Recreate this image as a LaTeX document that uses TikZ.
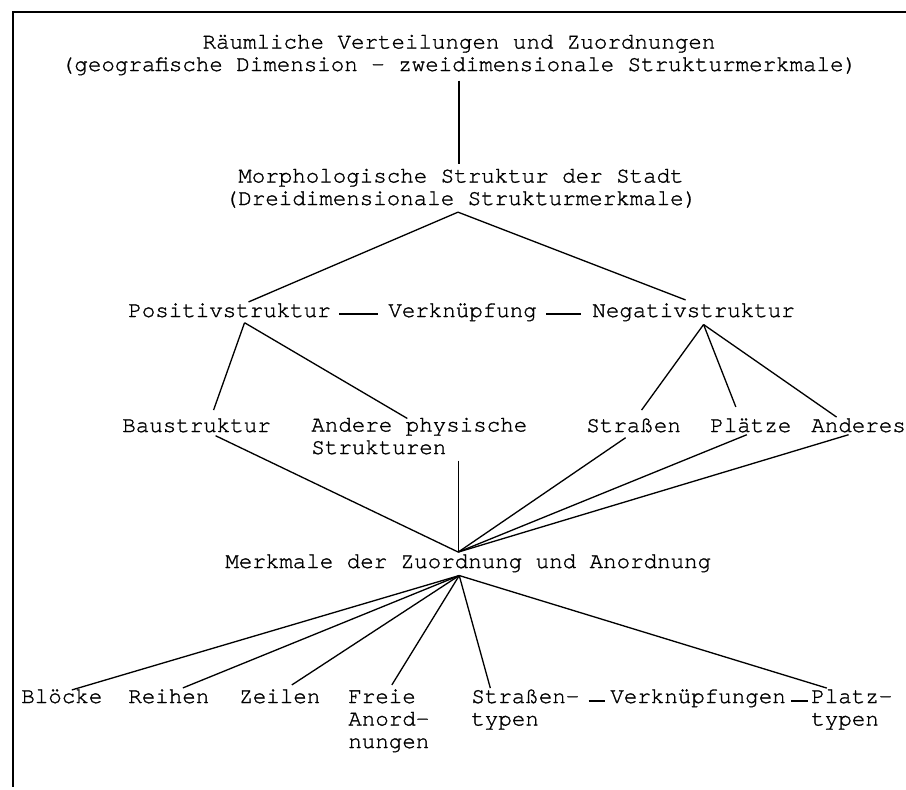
\documentclass[tikz,border=0pt]{standalone}
\usepackage{fontspec}
\setmainfont[FakeBold=1.2]{texgyrecursor-regular.otf}
\usepackage{tikz}
\usetikzlibrary{calc}
\tikzstyle{txt} = [inner sep=0pt, anchor=base west, align=left, font=\fontsize{12.8}{12.8}\selectfont]
\tikzstyle{wire} = [line width=0.75pt]
\tikzstyle{frame} = [line width=1.3pt]

\begin{document}
\begin{tikzpicture}[x=0.02cm, y=-0.02cm]
    \useasboundingbox (0,0) rectangle (906,789);
    \draw[frame] (906,12) -- (13,12) -- (13,787);

    % multi-line nodes sit on the baseline of their last line
    \node[txt, anchor=base, align=center] (titel) at (459,71) {Räumliche Verteilungen und Zuordnungen\\(geografische Dimension - zweidimensionale Strukturmerkmale)};
    \node[txt, anchor=base, align=center] (morph) at (461,205) {Morphologische Struktur der Stadt\\(Dreidimensionale Strukturmerkmale)};
    \node[txt] (pos) at (128,317) {Positivstruktur};
    \node[txt] (verk) at (388,317) {Verknüpfung};
    \node[txt] (neg) at (592,317) {Negativstruktur};
    \node[txt] (bau) at (122,432) {Baustruktur};
    \node[txt] (andere) at (311,454) {Andere physische\\Strukturen};
    \node[txt] (str) at (586,432) {Straßen};
    \node[txt] (pla) at (710,432) {Plätze};
    \node[txt] (anderes) at (811,432) {Anderes};
    \node[txt] (merk) at (225,568) {Merkmale der Zuordnung und Anordnung};
    \node[txt] (bloe) at (21,703) {Blöcke};
    \node[txt] (rei) at (128,703) {Reihen};
    \node[txt] (zei) at (239,703) {Zeilen};
    \node[txt] (frei) at (348,748) {Freie\\Anord-\\nungen};
    \node[txt] (strt) at (471,725.5) {Straßen-\\typen};
    \node[txt] (verkn) at (610,703) {Verknüpfungen};
    \node[txt] (plt) at (811,725.5) {Platz-\\typen};

    \coordinate (mOben) at ($(merk.north)+(-10,-2)$);
    \coordinate (mUnten) at ($(merk.south)+(-9,3)$);

    \draw[wire, shorten <=0.1cm, shorten >=0.08cm] (titel.south) -- (titel.south |- morph.north);
    \draw[wire] ($(morph.south)+(-3,4)$) -- ($(pos.north)+(19,-1)$);
    \draw[wire] ($(morph.south)+(-3,4)$) -- ($(neg.north)+(-8,-3)$);
    \draw[wire] ($(pos.base east)+(8,-3)$) -- ($(verk.base west)+(-10,-3)$);
    \draw[wire] ($(verk.base east)+(9,-3)$) -- ($(neg.base west)+(-11,-3)$);

    \draw[wire] ($(pos.south)+(15,5)$) -- ($(bau.north)+(17,-8)$);
    \draw[wire] ($(pos.south)+(15,5)$) -- ($(andere.north)+(-12,1)$);
    \draw[wire] ($(neg.south)+(10,3)$) -- ($(str.north)+(8,-8)$);
    \draw[wire] ($(neg.south)+(10,3)$) -- ($(pla.north)+(-15,-11)$);
    \draw[wire] ($(neg.south)+(10,3)$) -- ($(anderes.north)+(-22,-1)$);

    \draw[wire] ($(bau.south)+(19,3)$) -- (mOben);
    \draw[wire] ($(andere.south -| mOben)+(0,6)$) -- (mOben);
    \draw[wire] ($(str.south)+(-8,5)$) -- (mOben);
    \draw[wire] ($(pla.south)+(-4,2)$) -- (mOben);
    \draw[wire] ($(anderes.south)+(-10,2)$) -- (mOben);

    \draw[wire] (mUnten) -- ($(bloe.north)+(10,1)$);
    \draw[wire] (mUnten) -- ($(rei.north)+(14,-1)$);
    \draw[wire] (mUnten) -- ($(zei.north)+(12,-4)$);
    \draw[wire] (mUnten) -- ($(frei.north)+(3,-4)$);
    \draw[wire] (mUnten) -- ($(strt.north)+(-35,-1)$);
    \draw[wire] (mUnten) -- ($(plt.north)+(-25,-1)$);
    \draw[wire] ($(strt.east |- verkn.base)+(9,-2)$) -- ($(verkn.base west)+(-5,-2)$);
    \draw[wire] ($(verkn.base east)+(5,-2)$) -- ($(plt.west |- verkn.base)+(-3,-2)$);
\end{tikzpicture}
\end{document}
